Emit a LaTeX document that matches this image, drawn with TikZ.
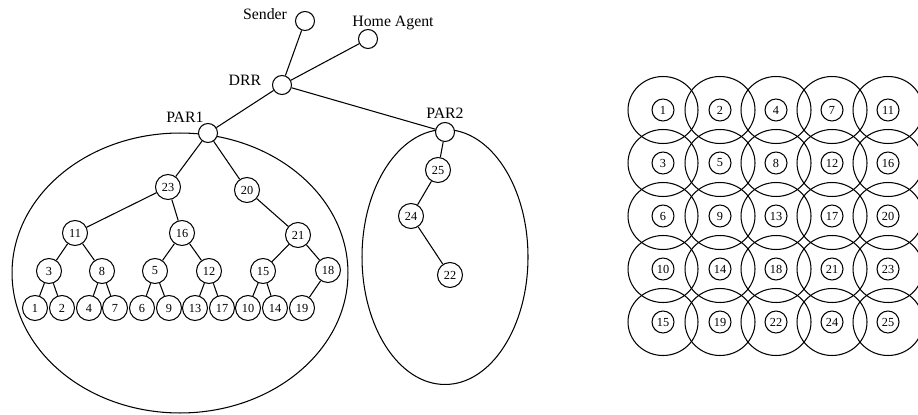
\documentclass[tikz,border=0pt]{standalone}
\usepackage{fontspec}
\setmainfont{Liberation Serif}
\usetikzlibrary{positioning}

\begin{document}
\begin{tikzpicture}[x=0.02cm,y=-0.02cm,line width=0.6pt,
	hub/.style={circle,draw,minimum size=0.38cm,inner sep=0pt},
	num/.style={circle,draw,minimum size=0.5cm,inner sep=0pt,font=\fontsize{7}{8}\selectfont},
	cell/.style={circle,draw,minimum size=0.44cm,inner sep=0pt,font=\fontsize{7}{8}\selectfont},
	tag/.style={font=\fontsize{9}{10}\selectfont}]
	\useasboundingbox (0,0) rectangle (918,415);
	% domains
	\draw (180,273) ellipse [x radius=3.36cm, y radius=2.8cm];
	\draw (445,257) ellipse [x radius=1.66cm, y radius=2.55cm];
	% upper routers
	\node[hub,fill=white] (sender) at (305,21) {};
	\node[hub,fill=white] (home) at (368,39) {};
	\node[hub,fill=white] (drr) at (282,85) {};
	\node[hub,fill=white] (par1) at (208,133) {};
	\node[hub,fill=white] (par2) at (445,132) {};
	\node[tag] (sendertxt) at (265,14) {Sender};
	\node[tag] (hometxt) at (393,23) {Home Agent};
	\node[tag] (drrtxt) at (245,80) {DRR};
	\node[tag] (par1txt) at (185,117) {PAR1};
	\node[tag] (par2txt) at (445,113) {PAR2};
	\draw (drr) -- (sender);
	\draw (drr) -- (home);
	\draw (drr) -- (par1);
	\draw (drr) -- (par2);
	% tree under PAR1
	\node[num] (t23) at (168,187) {23};
	\node[num] (t20) at (247,190) {20};
	\node[num] (t11) at (75,233) {11};
	\node[num] (t16) at (182,233) {16};
	\node[num] (t21) at (298,235) {21};
	\node[num] (t3) at (49,271) {3};
	\node[num] (t8) at (102,271) {8};
	\node[num] (t5) at (155,271) {5};
	\node[num] (t12) at (209,271) {12};
	\node[num] (t15) at (263,271) {15};
	\node[num] (t18) at (328,270) {18};
	\node[num] (t1) at (35,308) {1};
	\node[num] (t2) at (62,308) {2};
	\node[num] (t4) at (89,308) {4};
	\node[num] (t7) at (115,308) {7};
	\node[num] (t6) at (142,308) {6};
	\node[num] (t9) at (169,308) {9};
	\node[num] (t13) at (195,308) {13};
	\node[num] (t17) at (222,308) {17};
	\node[num] (t10) at (248,308) {10};
	\node[num] (t14) at (275,308) {14};
	\node[num] (t19) at (302,308) {19};
	\draw (par1) -- (t23);
	\draw (par1) -- (t20);
	\draw (t23) -- (t11);
	\draw (t23) -- (t16);
	\draw (t20) -- (t21);
	\draw (t11) -- (t3);
	\draw (t11) -- (t8);
	\draw (t16) -- (t5);
	\draw (t16) -- (t12);
	\draw (t21) -- (t15);
	\draw (t21) -- (t18);
	\draw (t3) -- (t1);
	\draw (t3) -- (t2);
	\draw (t8) -- (t4);
	\draw (t8) -- (t7);
	\draw (t5) -- (t6);
	\draw (t5) -- (t9);
	\draw (t12) -- (t13);
	\draw (t12) -- (t17);
	\draw (t15) -- (t10);
	\draw (t15) -- (t14);
	\draw (t18) -- (t19);
	% tree under PAR2
	\node[num] (t25) at (438,170) {25};
	\node[num] (t24) at (411,216) {24};
	\node[num] (t22) at (450,275) {22};
	\draw (par2) -- (t25);
	\draw (t25) -- (t24);
	\draw (t24) -- (t22);
	% grid of cells
	\node[cell] (g11) at (663,110) {1};
	\node[cell] (g12) at (720,110) {2};
	\node[cell] (g13) at (776,110) {4};
	\node[cell] (g14) at (832,110) {7};
	\node[cell] (g15) at (888,110) {11};
	\node[cell] (g21) at (663,163) {3};
	\node[cell] (g22) at (720,163) {5};
	\node[cell] (g23) at (776,163) {8};
	\node[cell] (g24) at (832,163) {12};
	\node[cell] (g25) at (888,163) {16};
	\node[cell] (g31) at (663,216) {6};
	\node[cell] (g32) at (720,216) {9};
	\node[cell] (g33) at (776,216) {13};
	\node[cell] (g34) at (832,216) {17};
	\node[cell] (g35) at (888,216) {20};
	\node[cell] (g41) at (663,269) {10};
	\node[cell] (g42) at (720,269) {14};
	\node[cell] (g43) at (776,269) {18};
	\node[cell] (g44) at (832,269) {21};
	\node[cell] (g45) at (888,269) {23};
	\node[cell] (g51) at (663,322) {15};
	\node[cell] (g52) at (720,322) {19};
	\node[cell] (g53) at (776,322) {22};
	\node[cell] (g54) at (832,322) {24};
	\node[cell] (g55) at (888,322) {25};
	\foreach \r in {1,...,5}
		\foreach \c in {1,...,5}
			\draw (g\r\c.center) ellipse [x radius=0.70cm, y radius=0.67cm];
\end{tikzpicture}
\end{document}
